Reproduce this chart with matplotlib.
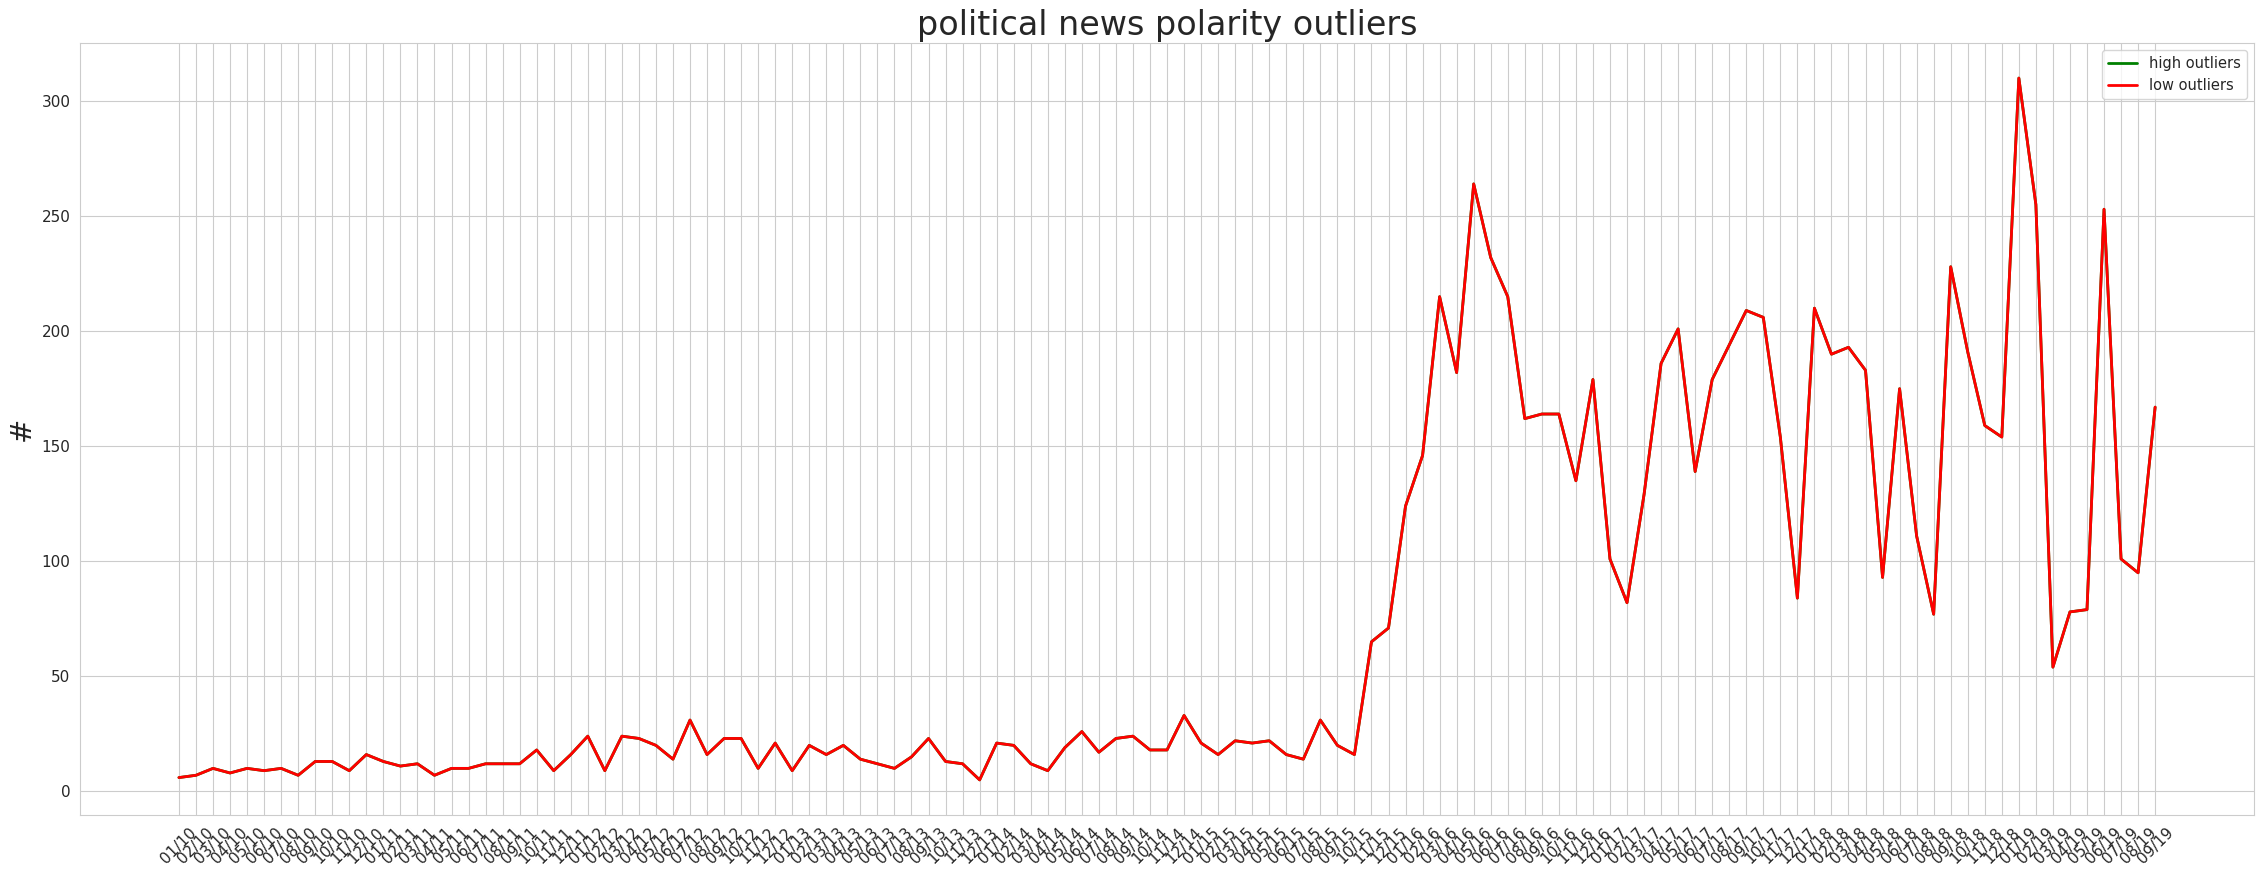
import matplotlib
matplotlib.use("Agg")
import matplotlib.pyplot as plt
import seaborn as sns

sns.set_style("whitegrid")
plt.rcParams['font.family'] = ['DejaVu Sans']

months = [f"{m:02d}/{y:02d}" for y in range(10, 20) for m in range(1, 13)][:117]

low_outliers = [
    6, 7, 10, 8, 10, 9, 10, 7, 13, 13, 9, 16, 13, 11, 12, 7, 10, 10, 12, 12,
    12, 18, 9, 16, 24, 9, 24, 23, 20, 14, 31, 16, 23, 23, 10, 21, 9, 20, 16, 20,
    14, 12, 10, 15, 23, 13, 12, 5, 21, 20, 12, 9, 19, 26, 17, 23, 24, 18, 18, 33,
    21, 16, 22, 21, 22, 16, 14, 31, 20, 16, 65, 71, 124, 146, 215, 182, 264, 232, 215, 162,
    164, 164, 135, 179, 101, 82, 129, 186, 201, 139, 179, 194, 209, 206, 154, 84, 210, 190, 193, 183,
    93, 175, 111, 77, 228, 191, 159, 154, 310, 255, 54, 78, 79, 253, 101, 95, 167,
]
high_outliers = list(low_outliers)

fig = plt.figure(figsize=(22.63, 8.72), dpi=100)
ax = fig.add_axes([0.0354, 0.0654, 0.9606, 0.8853])

x = list(range(len(months)))
ax.plot(x, high_outliers, color="green", linewidth=2, label="high outliers")
ax.plot(x, low_outliers, color="red", linewidth=2, label="low outliers")

ax.set_xticks(x)
ax.set_xticklabels(months, rotation=45, fontsize=11)
ax.tick_params(axis="y", labelsize=11)
ax.set_title("political news polarity outliers", fontsize=24)
ax.set_ylabel("#", fontsize=21)
ax.legend(loc="upper right", fontsize=10.5)

fig.savefig("out.png", dpi=100)
